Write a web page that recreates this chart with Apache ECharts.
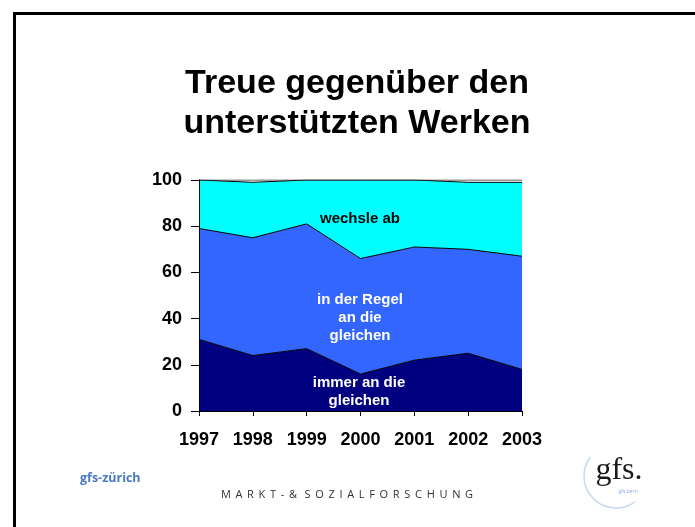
<!DOCTYPE html>
<html><head><meta charset="utf-8">
<script src="https://cdn.jsdelivr.net/npm/echarts@6/dist/echarts.min.js"></script>
<style>html,body{margin:0;padding:0;background:#fff}#c{width:695px;height:527px}</style>
</head><body><div id="c"></div>
<script>
const years = ['1997','1998','1999','2000','2001','2002','2003'];
const immer = [31, 24, 27, 16, 22, 25, 18];
const regel = [48, 51, 54, 50, 49, 45, 49];
const wechsle = [21, 24, 19, 34, 29, 29, 32];
const rest = [0, 1, 0, 0, 0, 1, 1];
const yTicks = [0, 20, 40, 60, 80, 100];

const chart = echarts.init(document.getElementById('c'));
function area(name, data, color, lineColor) {
  return {
    name, type: 'line', stack: 'a', data, symbol: 'none',
    lineStyle: {color: lineColor || '#000', width: 1},
    areaStyle: {color, opacity: 1},
    z: 2
  };
}
const spaced = s => s.split('').join(' \u2009');
chart.setOption({
  animation: false,
  backgroundColor: '#fff',
  grid: {left: 199, right: 173, top: 180, bottom: 116},
  xAxis: {
    type: 'category', data: years, boundaryGap: false,
    axisLine: {lineStyle: {color: '#000', width: 1}},
    axisTick: {show: true, alignWithLabel: true, length: 5, lineStyle: {color: '#000'}},
    axisLabel: {color: '#000', fontWeight: 'bold', fontSize: 18, fontFamily: 'Liberation Sans, Arial', margin: 20},
    z: 5
  },
  yAxis: {
    type: 'value', min: 0, max: 100, interval: 20,
    axisLine: {show: true, lineStyle: {color: '#000', width: 1}},
    axisTick: {show: true, length: 8, lineStyle: {color: '#000'}},
    splitLine: {show: false},
    axisLabel: {color: '#000', fontWeight: 'bold', fontSize: 18, fontFamily: 'Liberation Sans, Arial', margin: 17,
      formatter: v => yTicks.includes(v) ? String(v) : ''},
    z: 5
  },
  series: [
    area('immer an die gleichen', immer, '#000080'),
    area('in der Regel an die gleichen', regel, '#3366ff'),
    area('wechsle ab', wechsle, '#00ffff'),
    area('weiss nicht', rest, '#ffffff', '#333')
  ],
  graphic: [
    {type: 'rect', shape: {x: 14.5, y: 13.5, width: 700, height: 600}, style: {fill: 'none', stroke: '#000', lineWidth: 3}, silent: true},
    {type: 'text', x: 357, y: 104, style: {text: 'Treue gegenüber den\nunterstützten Werken', font: 'bold 34px Liberation Sans, Arial', fill: '#000', textAlign: 'center', textVerticalAlign: 'middle', lineHeight: 40}, silent: true},
    {type: 'text', x: 360, y: 219, style: {text: 'wechsle ab', font: 'bold 15px Liberation Sans, Arial', fill: '#000', textAlign: 'center', textVerticalAlign: 'middle'}, z: 10},
    {type: 'text', x: 360, y: 318, style: {text: 'in der Regel\nan die\ngleichen', font: 'bold 15px Liberation Sans, Arial', fill: '#fff', textAlign: 'center', textVerticalAlign: 'middle', lineHeight: 18}, z: 10},
    {type: 'text', x: 359, y: 392, style: {text: 'immer an die\ngleichen', font: 'bold 15px Liberation Sans, Arial', fill: '#fff', textAlign: 'center', textVerticalAlign: 'middle', lineHeight: 18}, z: 10},
    {type: 'text', x: 80, y: 478, style: {text: 'gfs-zürich', font: 'bold 12.5px Open Sans, Noto Sans', fill: '#4a78c8', textVerticalAlign: 'middle'}},
    {type: 'text', x: 347, y: 495, style: {text: spaced('MARKT-') + ' \u2009&  \u2009' + spaced('SOZIALFORSCHUNG'), font: '11px Open Sans, Noto Sans', fill: '#333', textAlign: 'center', textVerticalAlign: 'middle'}},
    {type: 'arc', shape: {cx: 616, cy: 476, r: 32, startAngle: Math.PI * 0.3, endAngle: Math.PI * 1.2}, style: {stroke: '#c8d8f4', lineWidth: 1.5, fill: 'none'}},
    {type: 'text', x: 619, y: 487, style: {text: 'gfs.', font: '32px Liberation Serif, DejaVu Serif', fill: '#1a1a1a', textAlign: 'center', textVerticalAlign: 'bottom'}},
    {type: 'text', x: 628, y: 492, style: {text: 'gfs.bern', font: '5px Noto Sans', fill: '#8fb0e8', textAlign: 'center', textVerticalAlign: 'middle'}}
  ]
});
</script></body></html>
